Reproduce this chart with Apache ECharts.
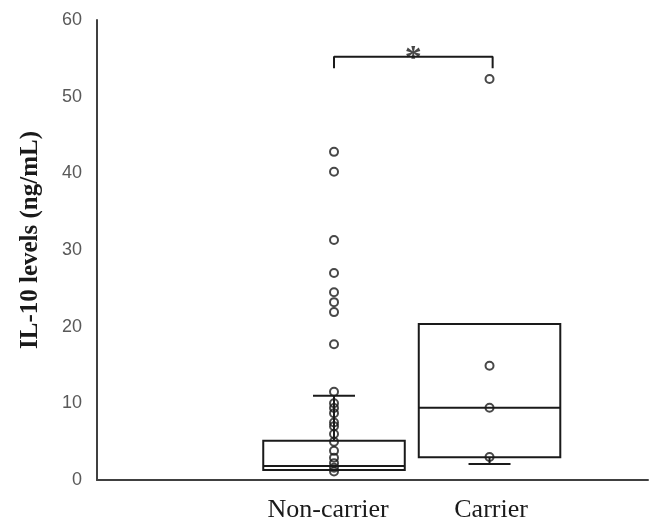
<!DOCTYPE html>
<html>
<head>
<meta charset="utf-8">
<script src="https://cdn.jsdelivr.net/npm/echarts@6/dist/echarts.min.js"></script>
<style>
html,body{margin:0;padding:0;background:#fff;}
#chart{width:650px;height:523px;}
</style>
</head>
<body>
<div id="chart"></div>
<script>
// ---- data ----
const categories = ['Non-carrier', 'Carrier'];
const categoryX = [1, 2];
const labelX = [0.962, 2.01];
// box stats: [lowWhisker, q1, median, q3, highWhisker]
const nonCarrierBox = [1.3, 1.3, 1.83, 5.13, 11.0];
const carrierBox = [2.09, 2.96, 9.43, 20.35, 20.35];
const nonCarrierPoints = [42.8, 40.2, 31.3, 27.0, 24.5, 23.2, 21.9, 17.7, 11.5, 10.0, 9.4, 8.7, 7.5, 7.0, 6.0, 5.0, 3.8, 2.9, 2.2, 1.6, 1.1];
const carrierPoints = [52.3, 14.9, 9.43, 3.0];
const yTicks = [0, 10, 20, 30, 40, 50, 60];
const bracket = { from: 1, to: 2.02, top: 55.2, bottom: 53.7, label: '*', labelX: 1.51 };

const BOX_WIDTH = 0.91;
const CAP_WIDTH = 0.27;
const INK = '#1a1a1a';

const boxData = [
  [categoryX[0]].concat(nonCarrierBox),
  [categoryX[1]].concat(carrierBox)
];

function renderBox(params, api) {
  const x = api.value(0);
  const low = api.value(1), q1 = api.value(2), med = api.value(3), q3 = api.value(4), high = api.value(5);
  const halfW = api.size([BOX_WIDTH, 0])[0] / 2;
  const capHalf = api.size([CAP_WIDTH, 0])[0] / 2;
  const pLow = api.coord([x, low]), pQ1 = api.coord([x, q1]), pMed = api.coord([x, med]);
  const pQ3 = api.coord([x, q3]), pHigh = api.coord([x, high]);
  const st = { stroke: INK, lineWidth: 2, fill: null };
  const cx = pMed[0];
  const children = [
    { type: 'rect', shape: { x: cx - halfW, y: pQ3[1], width: 2 * halfW, height: pQ1[1] - pQ3[1] }, style: st },
    { type: 'line', shape: { x1: cx - halfW, y1: pMed[1], x2: cx + halfW, y2: pMed[1] }, style: st }
  ];
  if (high > q3) {
    children.push({ type: 'line', shape: { x1: cx, y1: pQ3[1], x2: cx, y2: pHigh[1] }, style: st });
    children.push({ type: 'line', shape: { x1: cx - capHalf, y1: pHigh[1], x2: cx + capHalf, y2: pHigh[1] }, style: st });
  }
  if (low < q1) {
    children.push({ type: 'line', shape: { x1: cx, y1: pQ1[1], x2: cx, y2: pLow[1] }, style: st });
    children.push({ type: 'line', shape: { x1: cx - capHalf, y1: pLow[1], x2: cx + capHalf, y2: pLow[1] }, style: st });
  }
  return { type: 'group', children: children };
}

const chart = echarts.init(document.getElementById('chart'), null, { renderer: 'canvas' });
const option = {
  animation: false,
  backgroundColor: '#ffffff',
  grid: { left: 97, right: 2, top: 20, bottom: 43 },
  xAxis: {
    type: 'value',
    min: -0.524,
    max: 3.019,
    axisLine: { show: true, onZero: false, lineStyle: { color: '#404040', width: 2 } },
    axisTick: { show: false },
    splitLine: { show: false },
    axisLabel: {
      customValues: labelX,
      formatter: function (v) { return categories[Math.round(v) - 1] || ''; },
      color: '#1a1a1a',
      fontFamily: 'Liberation Serif',
      fontSize: 26,
      margin: 17
    }
  },
  yAxis: {
    type: 'value',
    min: yTicks[0],
    max: yTicks[yTicks.length - 1],
    interval: 10,
    axisLine: { show: true, onZero: false, lineStyle: { color: '#404040', width: 2 } },
    axisTick: { show: false },
    splitLine: { show: false },
    axisLabel: { color: '#595959', fontFamily: 'Liberation Sans', fontSize: 18, margin: 15 },
    name: 'IL-10 levels (ng/mL)',
    nameLocation: 'middle',
    nameGap: 54,
    nameTextStyle: { color: '#1a1a1a', fontFamily: 'Liberation Serif', fontSize: 25, fontWeight: 'bold', padding: [0, 0, 0, 20] }
  },
  series: [
    {
      type: 'custom',
      renderItem: renderBox,
      data: boxData,
      encode: { x: 0, y: [1, 2, 3, 4, 5] },
      z: 2
    },
    {
      type: 'scatter',
      data: nonCarrierPoints.map(v => [categoryX[0], v]),
      symbol: 'circle',
      symbolSize: 8,
      itemStyle: { color: 'rgba(0,0,0,0)', borderColor: INK, borderWidth: 2 },
      z: 3
    },
    {
      type: 'scatter',
      data: carrierPoints.map(v => [categoryX[1], v]),
      symbol: 'circle',
      symbolSize: 8,
      itemStyle: { color: 'rgba(0,0,0,0)', borderColor: INK, borderWidth: 2 },
      z: 3
    },
    {
      type: 'line',
      data: [[bracket.from, bracket.bottom], [bracket.from, bracket.top], [bracket.to, bracket.top], [bracket.to, bracket.bottom]],
      showSymbol: false,
      symbol: 'none',
      lineStyle: { color: INK, width: 2 },
      z: 3
    },
    {
      type: 'scatter',
      data: [[bracket.labelX, bracket.top]],
      symbolSize: 0,
      label: {
        show: true,
        position: 'inside',
        offset: [0, 2],
        formatter: bracket.label,
        color: INK,
        fontFamily: 'Liberation Serif',
        fontWeight: 'bold',
        fontSize: 34
      },
      z: 4
    }
  ]
};
chart.setOption(option);
</script>
</body>
</html>
